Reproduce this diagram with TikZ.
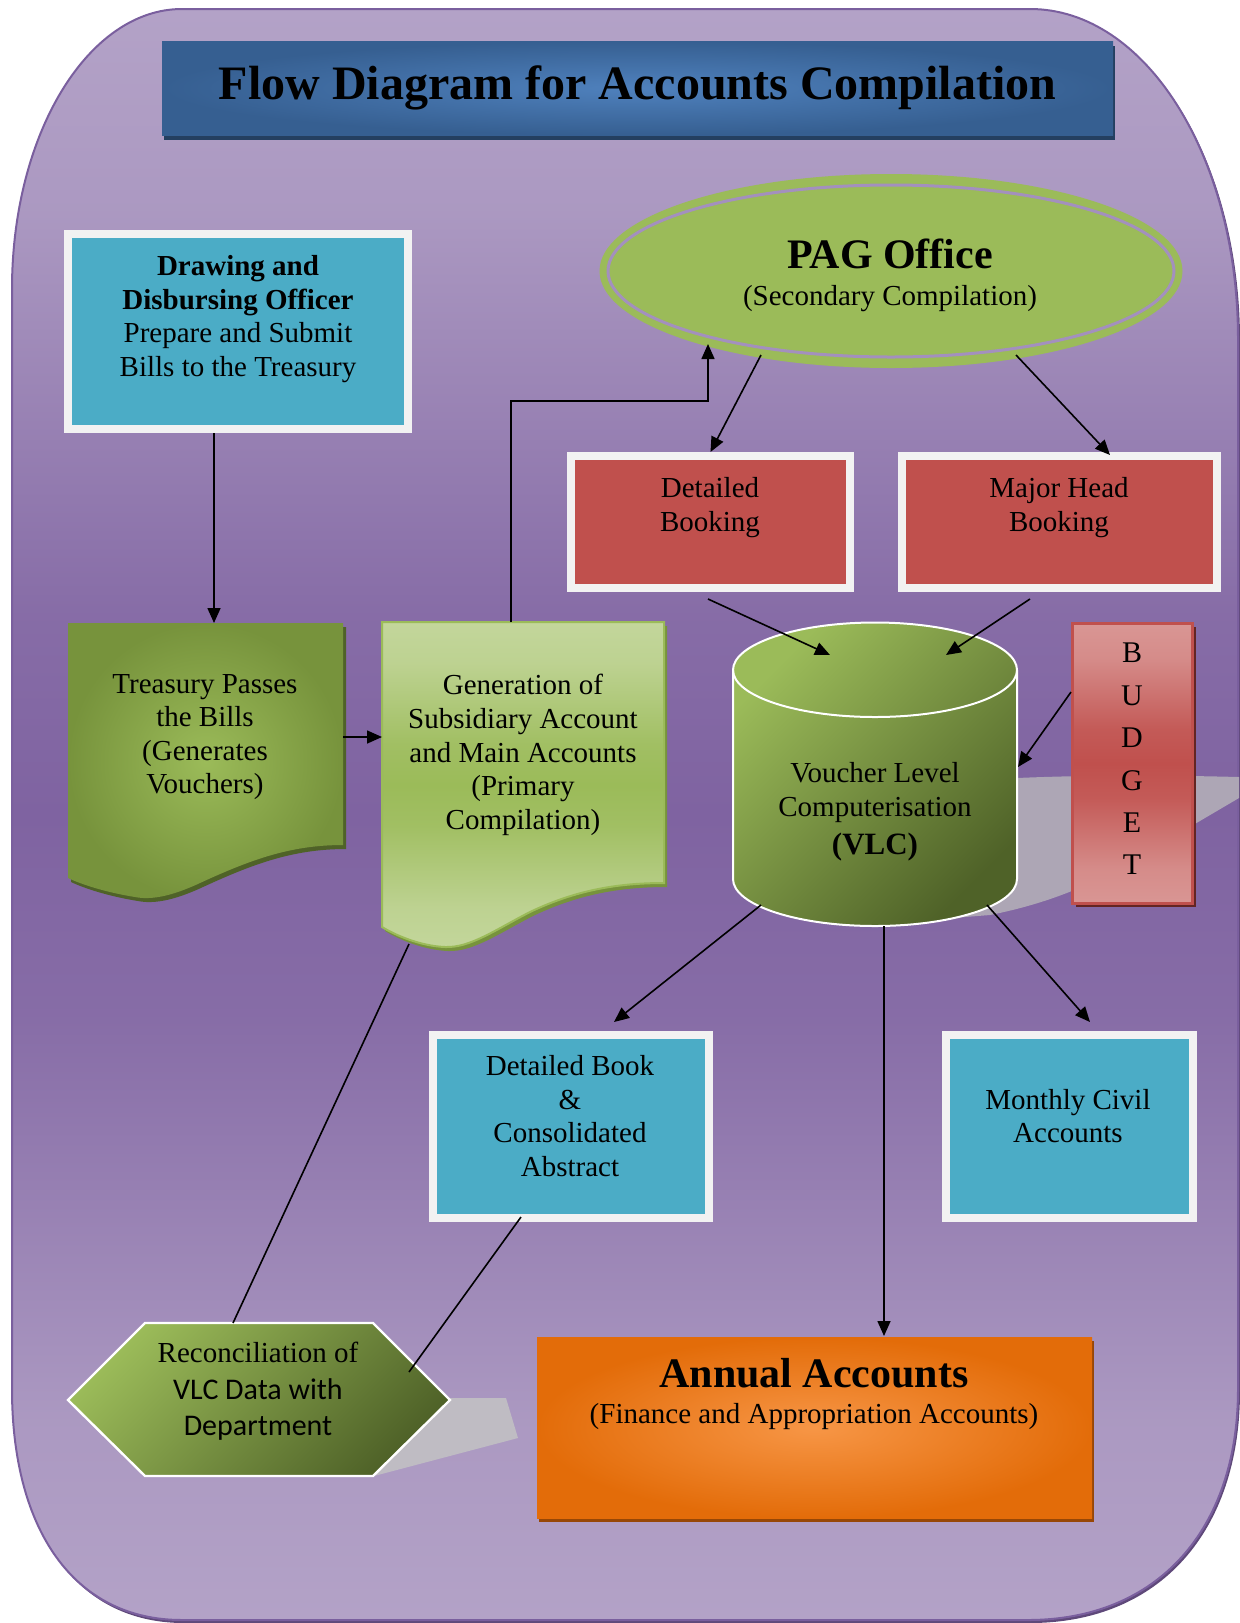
\documentclass[tikz,border=0pt]{standalone}
\usepackage{fontspec}
\setmainfont{Liberation Serif}
\newfontfamily\calfont{Carlito}
\usetikzlibrary{arrows.meta,shadows,calc,shapes.geometric}
\definecolor{bgLight}{HTML}{B3A2C7}
\definecolor{bgDark}{HTML}{7F63A1}
\definecolor{bgEdge}{HTML}{7A5F9E}
\definecolor{bgShadow}{HTML}{5F497A}
\definecolor{titleIn}{HTML}{4F81BD}
\definecolor{titleOut}{HTML}{365F91}
\definecolor{titleShadow}{HTML}{243F60}
\definecolor{cyanFill}{HTML}{4BACC6}
\definecolor{boxBorder}{HTML}{F2F2F2}
\definecolor{redFill}{HTML}{C0504D}
\definecolor{pinkFill}{HTML}{D99694}
\definecolor{redShadow}{HTML}{632523}
\definecolor{oliveLight}{HTML}{9BBB59}
\definecolor{oliveMid}{HTML}{77933C}
\definecolor{oliveDark}{HTML}{4F6228}
\definecolor{paleGreen}{HTML}{C3D69B}
\definecolor{ringPurple}{HTML}{A390BE}
\definecolor{orangeIn}{HTML}{F79646}
\definecolor{orangeOut}{HTML}{E36C09}
\definecolor{orangeShadow}{HTML}{974706}
\definecolor{greyShadow}{HTML}{BFBCC3}
\definecolor{greyShadowB}{HTML}{ADA6B5}
\colorlet{bgMixA}{bgDark!15!bgLight}
\colorlet{bgMixB}{bgDark!50!bgLight}
\colorlet{bgMixC}{bgDark!85!bgLight}
\colorlet{genMixA}{oliveLight!15!paleGreen}
\colorlet{genMixB}{oliveLight!50!paleGreen}
\colorlet{genMixC}{oliveLight!85!paleGreen}
\colorlet{budMixA}{redFill!15!pinkFill}
\colorlet{budMixB}{redFill!50!pinkFill}
\colorlet{budMixC}{redFill!85!pinkFill}
\pgfdeclareverticalshading{bgshade}{100bp}{color(0bp)=(bgLight); color(25bp)=(bgLight); color(31.25bp)=(bgMixA); color(37.5bp)=(bgMixB); color(43.75bp)=(bgMixC); color(50bp)=(bgDark); color(56.25bp)=(bgMixC); color(62.5bp)=(bgMixB); color(68.75bp)=(bgMixA); color(75bp)=(bgLight); color(100bp)=(bgLight)}
\pgfdeclareverticalshading{genshade}{100bp}{color(0bp)=(paleGreen); color(25bp)=(paleGreen); color(31.25bp)=(genMixA); color(37.5bp)=(genMixB); color(43.75bp)=(genMixC); color(50bp)=(oliveLight); color(56.25bp)=(genMixC); color(62.5bp)=(genMixB); color(68.75bp)=(genMixA); color(75bp)=(paleGreen); color(100bp)=(paleGreen)}
\pgfdeclareverticalshading{budshade}{100bp}{color(0bp)=(pinkFill); color(25bp)=(pinkFill); color(31.25bp)=(budMixA); color(37.5bp)=(budMixB); color(43.75bp)=(budMixC); color(50bp)=(redFill); color(56.25bp)=(budMixC); color(62.5bp)=(budMixB); color(68.75bp)=(budMixA); color(75bp)=(pinkFill); color(100bp)=(pinkFill)}
\tikzset{
  arr/.style={line width=0.8pt, -{Triangle[length=7.5pt,width=6.5pt]}},
  plainline/.style={line width=0.8pt},
  body/.style={font=\fontsize{14.5}{16.8}\selectfont, align=center, text=black, inner sep=0pt},
  whitebox/.style={draw=boxBorder, line width=4pt, inner sep=0pt,
    drop shadow={shadow xshift=2pt, shadow yshift=-2pt, fill=black, opacity=0.35}},
  cyanbox/.style={whitebox, fill=cyanFill},
  redbox/.style={whitebox, fill=redFill},
  darkgreen/.style={top color=oliveLight, bottom color=oliveDark, shading angle=45, draw=white, line width=1pt}
}
\begin{document}
\begin{tikzpicture}[x=0.5pt,y=-0.5pt]
\useasboundingbox (0,0) rectangle (1239,1623);
% background
\fill[bgShadow] (14,291) .. controls (14,136) and (90,11) .. (184,11) -- (1032,11)
  .. controls (1148,11) and (1240,159) .. (1240,341) -- (1240,1391)
  .. controls (1240,1531) and (1160,1623) .. (1030,1623) -- (184,1623)
  .. controls (76,1623) and (14,1533) .. (14,1391) -- cycle;
\shade[shading=bgshade, draw=bgEdge, line width=1pt]
  (12,289) .. controls (12,134) and (88,9) .. (182,9) -- (1030,9)
  .. controls (1146,9) and (1238,157) .. (1238,339) -- (1238,1389)
  .. controls (1238,1529) and (1158,1620) .. (1028,1620) -- (182,1620)
  .. controls (74,1620) and (12,1530) .. (12,1389) -- cycle;
% title
\node[shade, inner color=titleIn, outer color=titleOut, minimum width=475.5pt, minimum height=47pt, inner sep=0pt,
  drop shadow={shadow xshift=1pt, shadow yshift=-2.5pt, fill=titleShadow, opacity=1},
  font=\fontsize{24}{28}\selectfont\bfseries] (title) at (637.5,88) {Flow Diagram for Accounts Compilation};
% DDO
\node[cyanbox, minimum width=170pt, minimum height=97.5pt] (ddo) at (238,331.5) {};
\node[body] (ddoT) at (238,319) {\textbf{Drawing and}\\\textbf{Disbursing Officer}\\Prepare and Submit\\Bills to the Treasury};
% PAG
\node[ellipse, fill=oliveLight, minimum width=291.5pt, minimum height=97pt, inner sep=0pt] (pag) at (891,271) {};
\draw[ringPurple, line width=1.5pt] (pag.center) ellipse [x radius=141.5pt, y radius=43pt];
\node[font=\fontsize{21}{24}\selectfont\bfseries, inner sep=0pt] (pagT) at (890,254) {PAG Office};
\node[body] (pagS) at (890,299) {(Secondary Compilation)};
% booking boxes
\node[redbox, minimum width=139.5pt, minimum height=66pt] (dbk) at (710.5,522) {};
\node[body] (dbkT) at (710,507.5) {Detailed\\Booking};
\node[redbox, minimum width=157.5pt, minimum height=66pt] (mhb) at (1059.5,522) {};
\node[body] (mhbT) at (1059,507.5) {Major Head\\Booking};
% shadow behind cylinder
\fill[greyShadowB] (960,781) .. controls (1040,776) and (1120,774) .. (1239,777) -- (1239,798)
  -- (1120,868) .. controls (1080,890) and (1040,905) .. (990,915) -- (940,919) -- cycle;
% treasury document
\path[shade, inner color=oliveLight, outer color=oliveMid,
  drop shadow={shadow xshift=1.5pt, shadow yshift=-2pt, fill=oliveDark, opacity=1}]
  (68,623) -- (343,623) -- (343,845) .. controls (290,845) and (250,860) .. (200,883)
  .. controls (170,897) and (150,900) .. (135,897) .. controls (110,893) and (85,886) .. (68,878) -- cycle;
\node[body] (treT) at (205,737) {Treasury Passes\\the Bills\\(Generates\\Vouchers)};
% generation document
\path[shading=genshade, shade, draw=oliveLight, line width=1pt,
  drop shadow={shadow xshift=1.5pt, shadow yshift=-2pt, fill=oliveMid, opacity=1}]
  (664,883) .. controls (610,883) and (570,893) .. (530,912) .. controls (495,930) and (470,948) .. (445,947)
  .. controls (420,946) and (395,935) .. (382,927) -- (382,622) -- (664,622) -- cycle;
\node[body] (genT) at (523,755) {Generation of\\Subsidiary Account\\and Main Accounts\\(Primary\\Compilation)};
% cylinder
\path[darkgreen] (733,670) -- (733,879) .. controls (733,905) and (797,926) .. (875,926)
  .. controls (953,926) and (1017,905) .. (1017,879) -- (1017,670)
  .. controls (1017,644) and (953,622.5) .. (875,622.5) .. controls (797,622.5) and (733,644) .. (733,670) -- cycle;
\draw[white, line width=1pt] (733,670) .. controls (733,696) and (797,717) .. (875,717)
  .. controls (953,717) and (1017,696) .. (1017,670);
\node[body, font=\fontsize{14.5}{17}\selectfont] (vlc) at (875,812) {Voucher Level\\Computerisation\\[2pt]{\bfseries\fontsize{15.5}{17}\selectfont (VLC)}};
% budget
\node[shading=budshade, shade, draw=redFill, line width=1.5pt,
  minimum width=60pt, minimum height=140pt, inner sep=0pt,
  drop shadow={shadow xshift=1.5pt, shadow yshift=-1.5pt, fill=redShadow, opacity=1}] (bud) at (1132.5,763.5) {};
\node[body, font=\fontsize{15}{21.2}\selectfont] (budT) at (1132,759) {B\\U\\D\\G\\E\\T};
% lower boxes
\node[cyanbox, minimum width=138pt, minimum height=91.5pt] (dbo) at (571,1126.5) {};
\node[body] (dboT) at (570,1116) {Detailed Book\\\&\\Consolidated\\Abstract};
\node[cyanbox, minimum width=123.5pt, minimum height=91.5pt] (mca) at (1069.5,1126.5) {};
\node[body] (mcaT) at (1068,1116) {Monthly Civil\\Accounts};
% hexagon
\fill[greyShadow] (440,1398) -- (506,1398) -- (518,1438) -- (374,1476) -- cycle;
\path[darkgreen, line width=1.2pt] (145,1323) -- (373,1323) -- (450,1400) -- (373,1476) -- (145,1476) -- (68,1400) -- cycle;
\node[body, font=\fontsize{14.5}{18.25}\selectfont] (hexT) at (258,1391.5) {Reconciliation of\\{\calfont\fontsize{15}{18.25}\selectfont VLC Data with}\\{\calfont\fontsize{15}{18.25}\selectfont Department}};
% annual
\node[shade, inner color=orangeIn, outer color=orangeOut, minimum width=277.5pt, minimum height=90.5pt, inner sep=0pt,
  drop shadow={shadow xshift=1pt, shadow yshift=-2pt, fill=orangeShadow, opacity=1}] (ann) at (814.5,1427.5) {};
\node[font=\fontsize{21}{24}\selectfont\bfseries, inner sep=0pt] (annT) at (814,1373) {Annual Accounts};
\node[body] (annS) at (814,1417) {(Finance and Appropriation Accounts)};
% connector coordinates
\coordinate (trtop) at (214,623);
\coordinate (treE) at (343,737);
\coordinate (genW) at (382,737);
\coordinate (genN) at (511,622);
\coordinate (gbend) at (511,401);
\coordinate (pagSW) at (708,344);
\coordinate (pagA) at (761,355);
\coordinate (pagB) at (1016,355);
\coordinate (mhbIn) at (1110,455);
\coordinate (dbkOut) at (708,599);
\coordinate (mhbOut) at (1030,599);
\coordinate (vlcA) at (830,655);
\coordinate (vlcB) at (946,655);
\coordinate (budOut) at (1071,692);
\coordinate (vlcR) at (1018,767);
\coordinate (vlcC) at (761,905);
\coordinate (vlcD) at (987,905);
\coordinate (vlcE) at (884,926);
\coordinate (dboIn) at (614,1022);
\coordinate (mcaIn) at (1090,1022);
\coordinate (annIn) at (884,1336);
\coordinate (genS) at (409,944);
\coordinate (hexTop) at (233,1323);
\coordinate (dboOut) at (521,1217);
\coordinate (hexR) at (409,1372);
% connectors
\draw[arr] (ddo.south -| trtop) -- (trtop);
\draw[arr] (treE) -- (genW);
\draw[arr] (genN) -- (gbend) -| (pagSW);
\draw[arr] (pagA) -- (dbk.north);
\draw[arr] (pagB) -- (mhbIn);
\draw[arr] (dbkOut) -- (vlcA);
\draw[arr] (mhbOut) -- (vlcB);
\draw[arr] (budOut) -- (vlcR);
\draw[arr] (vlcC) -- (dboIn);
\draw[arr] (vlcD) -- (mcaIn);
\draw[arr] (vlcE) -- (annIn);
\draw[plainline] (genS) -- (hexTop);
\draw[plainline] (dboOut) -- (hexR);
\end{tikzpicture}
\end{document}
